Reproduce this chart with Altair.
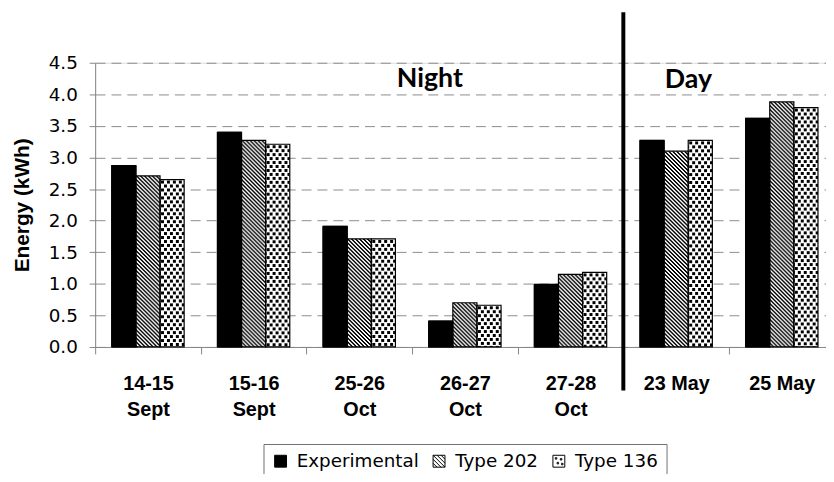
import base64
import altair as alt
import pandas as pd

# ---------------- data ----------------
categories = ["14-15 Sept", "15-16 Sept", "25-26 Oct", "26-27 Oct", "27-28 Oct", "23 May", "25 May"]
series = ["Experimental", "Type 202", "Type 136"]
experimental = [2.87, 3.40, 1.91, 0.41, 0.99, 3.27, 3.62]
type_202 = [2.71, 3.27, 1.71, 0.70, 1.15, 3.10, 3.88]
type_136 = [2.65, 3.21, 1.71, 0.66, 1.18, 3.27, 3.79]
y_ticks = [0.0, 0.5, 1.0, 1.5, 2.0, 2.5, 3.0, 3.5, 4.0, 4.5]
period_labels = ["Night", "Day"]
day_start = ["23 May"]

# ---------------- styles ----------------
def svg_uri(svg):
    return "data:image/svg+xml;base64," + base64.b64encode(svg.encode()).decode()

hatch_svg = ('<svg xmlns="http://www.w3.org/2000/svg"><defs>'
             '<pattern id="h" width="4" height="4" patternUnits="userSpaceOnUse">'
             '<rect width="4" height="4" fill="#fff"/>'
             '<g fill="#000" shape-rendering="crispEdges">'
             '<rect x="0" y="0" width="2" height="1"/><rect x="1" y="1" width="2" height="1"/>'
             '<rect x="2" y="2" width="2" height="1"/><rect x="3" y="3" width="1" height="1"/>'
             '<rect x="0" y="3" width="1" height="1"/></g>'
             '</pattern></defs><rect width="100%" height="100%" fill="url(#h)"/></svg>')
dots_svg = ('<svg xmlns="http://www.w3.org/2000/svg"><defs>'
            '<pattern id="d" width="6" height="8" patternUnits="userSpaceOnUse">'
            '<rect width="6" height="8" fill="#fff"/>'
            '<g fill="#000" shape-rendering="crispEdges">'
            '<rect x="1" y="1" width="2.5" height="2.5"/>'
            '<rect x="4" y="5" width="2.5" height="2.5"/>'
            '<rect x="-2" y="5" width="2.5" height="2.5"/></g>'
            '</pattern></defs><rect width="100%" height="100%" fill="url(#d)"/></svg>')
pattern_url = {"Type 202": svg_uri(hatch_svg), "Type 136": svg_uri(dots_svg)}

sq = "M-1,-1H1V1H-1Z"
hatch_path = sq + "".join(
    (f"M{-1 + c:.2f},-1L1,{1 - c:.2f}" if c >= 0 else f"M-1,{-1 - c:.2f}L{1 + c:.2f},1")
    for c in [-1.34, -0.67, 0.0, 0.67, 1.34]
)
dots_path = sq + "".join(
    f"M{x:.2f},{y:.2f}h0.25v0.25h-0.25Z" for x, y in [(-0.6, -0.6), (0.25, -0.45), (-0.3, 0.2), (0.45, 0.35)]
)

rows = []
for name, vals in zip(series, [experimental, type_202, type_136]):
    for c, v in zip(categories, vals):
        rows.append({"cat": c, "series": name, "value": v, "url": pattern_url.get(name, "")})
df = pd.DataFrame(rows)

GRAY = "#868686"
x_enc = alt.X(
    "cat:N", sort=categories, title=None,
    scale=alt.Scale(range=[0, 746.7], paddingInner=0, paddingOuter=0),
    axis=alt.Axis(
        tickBand="extent", labelAngle=0, domainColor=GRAY, tickColor=GRAY, tickSize=7,
        labelFont="Liberation Sans", labelFontWeight="bold", labelFontSize=20, labelColor="black",
        labelPadding=20, labelLineHeight=26, labelBaseline="top",
        labelExpr="indexof(datum.label, 'May') >= 0 ? datum.label : split(datum.label, ' ')",
        grid=False,
    ),
)
xo_enc = alt.XOffset("series:N", sort=series,
                     scale=alt.Scale(domain=series, paddingInner=0, paddingOuter=0.69))
y_enc = alt.Y(
    "value:Q", stack=None, title="Energy (kWh)",
    scale=alt.Scale(domain=[0, 4.5], nice=False, zero=True),
    axis=alt.Axis(
        values=y_ticks, format=".1f", domainColor=GRAY, tickColor=GRAY, tickSize=6,
        labelFont="DejaVu Sans", labelFontSize=18.5, labelColor="black", labelPadding=12,
        titleFont="Liberation Sans", titleFontWeight="bold", titleFontSize=21,
        titleColor="black", titlePadding=16,
        grid=True, gridColor="#8c8c8c", gridDash=[10, 6], gridWidth=1,
    ),
)

base = alt.Chart(df)
solid_bars = base.transform_filter(alt.datum.series == series[0]).mark_bar(
    fill="black", stroke="black", strokeWidth=1
).encode(x=x_enc, xOffset=xo_enc, y=y_enc)

pattern_bars = base.transform_filter(alt.datum.series != series[0]).mark_image(
    aspect=False
).encode(x=x_enc, xOffset=xo_enc, y=y_enc, y2=alt.datum(0), url=alt.Url("url:N"))

outline_bars = base.mark_bar(fillOpacity=0, stroke="black", strokeWidth=1.2).encode(
    x=x_enc, xOffset=xo_enc, y=y_enc
)

separator = alt.Chart(pd.DataFrame({"cat": day_start})).mark_rule(
    color="black", strokeWidth=4
).encode(
    x=alt.X("cat:N", sort=categories, bandPosition=0),
    y=alt.value(-51), y2=alt.value(331),
)

night = alt.Chart(pd.DataFrame({"label": [period_labels[0]]})).mark_text(
    font="Lato", fontWeight="bold", fontSize=27, align="center", baseline="alphabetic", color="black"
).encode(text="label:N", x=alt.value(338), y=alt.value(24))

day = alt.Chart(pd.DataFrame({"label": [period_labels[1]]})).mark_text(
    font="Lato", fontWeight="bold", fontSize=27, align="center", baseline="alphabetic", color="black"
).encode(text="label:N", x=alt.value(599), y=alt.value(25))

legend_props = dict(
    title=None, orient="none", legendX=170, legendY=385, direction="horizontal",
    strokeColor="#707070", fillColor="white", padding=8,
    symbolSize=144, symbolStrokeWidth=1, symbolStrokeColor="black", symbolOpacity=1,
    labelFont="DejaVu Sans", labelFontSize=18.5, labelColor="black",
    labelOffset=7, columnPadding=11,
)
legend_layer = alt.Chart(pd.DataFrame({"series": series})).mark_point(
    filled=True, opacity=0
).encode(
    shape=alt.Shape("series:N", sort=series,
                    scale=alt.Scale(domain=series, range=["square", hatch_path, dots_path]),
                    legend=alt.Legend(**legend_props)),
    fill=alt.Fill("series:N", sort=series,
                  scale=alt.Scale(domain=series, range=["black", "white", "white"]),
                  legend=alt.Legend(**legend_props)),
    stroke=alt.Stroke("series:N", sort=series,
                      scale=alt.Scale(domain=series, range=["black", "black", "black"]),
                      legend=alt.Legend(**legend_props)),
)

chart = alt.layer(
    solid_bars, pattern_bars, outline_bars, separator, night, day, legend_layer
).properties(
    width=738, height=287,
    autosize=alt.AutoSizeParams(type="none"),
    padding={"left": 88, "top": 53, "right": 0, "bottom": 126},
).configure_view(stroke=None).configure(background="white")

chart.save("out.html", embed_options={"renderer": "svg", "actions": False})
